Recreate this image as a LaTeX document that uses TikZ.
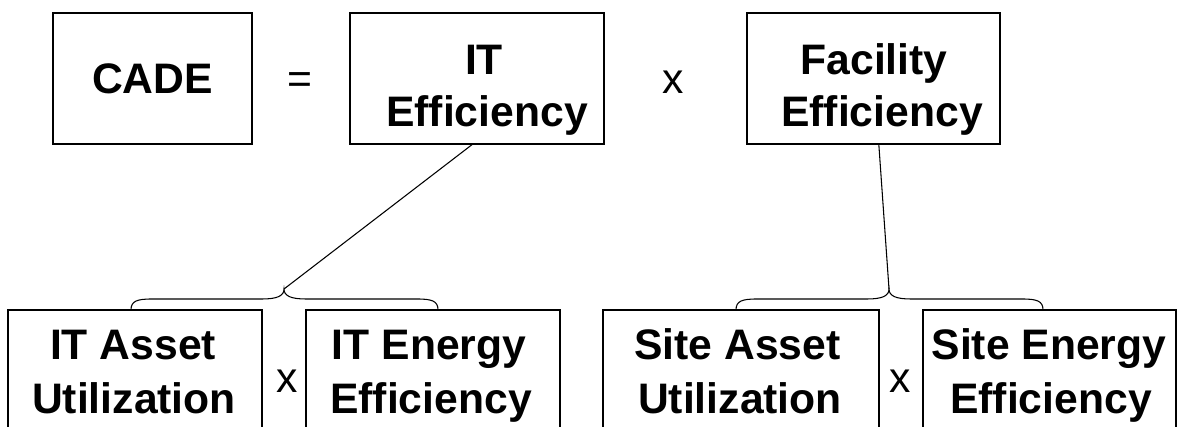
\documentclass[tikz,border=0pt]{standalone}
\usepackage{fontspec}
\setmainfont{Liberation Sans}
\usetikzlibrary{fit}
\begin{document}
\begin{tikzpicture}[x=0.75pt,y=-0.75pt]
\tikzset{
  box/.style={draw, line width=1pt, inner sep=0pt},
  lbl/.style={font=\bfseries\fontsize{32}{40}\selectfont, anchor=base, inner sep=0pt},
  op/.style={font=\fontsize{32}{40}\selectfont, anchor=base, inner sep=0pt},
  link/.style={line width=0.8pt},
}
\useasboundingbox (0,0) rectangle (1184,427);
\clip (0,0) rectangle (1184,427);
\fill[white] (0,0) rectangle (1184,427);
% top row
\node[box, fit={(53,13) (252,144)}] (cade) {};
\node[lbl] (cadet) at (152.5,94) {CADE};
\node[op] (eq) at (300,94) {=};
\node[box, fit={(350,13) (604,144)}] (itbox) {};
\node[lbl] (itt1) at (484,75) {IT};
\node[lbl] (itt2) at (487,127) {Efficiency};
\node[op] (x1) at (673,94) {x};
\node[box, fit={(747,13) (1000,144)}] (fac) {};
\node[lbl] (fact1) at (874,75) {Facility};
\node[lbl] (fact2) at (882,127) {Efficiency};
% bottom row
\node[box, fit={(8,310) (262,470)}] (ita) {};
\node[lbl] (itat1) at (133,359) {IT Asset};
\node[lbl] (itat2) at (134,413) {Utilization};
\node[op] (x2) at (287,392) {x};
\node[box, fit={(306,310) (560,470)}] (ite) {};
\node[lbl] (itet1) at (429,359) {IT Energy};
\node[lbl] (itet2) at (431,413) {Efficiency};
\node[box, fit={(603,310) (879,470)}] (sa) {};
\node[lbl] (sat1) at (737.5,359) {Site Asset};
\node[lbl] (sat2) at (740,413) {Utilization};
\node[op] (x3) at (900,392) {x};
\node[box, fit={(923,310) (1176,470)}] (se) {};
\node[lbl] (set1) at (1049,359) {Site Energy};
\node[lbl] (set2) at (1051,413) {Efficiency};
% braces
\coordinate (b1l) at (131,310);
\coordinate (b1t) at (284,289);
\coordinate (b1r) at (438,310);
\coordinate (b2l) at (736,310);
\coordinate (b2t) at (889,289);
\coordinate (b2r) at (1043,310);
\draw[link] (b1l) .. controls (131,301) and (137,299) .. (152,299) -- (262,299)
  .. controls (277,299) and (284,296) .. (b1t)
  .. controls (284,296) and (291,299) .. (306,299) -- (417,299)
  .. controls (432,299) and (438,301) .. (b1r);
\draw[link] (b2l) .. controls (736,301) and (742,299) .. (757,299) -- (867,299)
  .. controls (882,299) and (889,296) .. (b2t)
  .. controls (889,296) and (896,299) .. (911,299) -- (1022,299)
  .. controls (1037,299) and (1043,301) .. (b2r);
% links
\draw[link] ([xshift=-3.75pt]itbox.south) -- (b1t);
\draw[link] ([xshift=4pt]fac.south) -- (b2t);
\end{tikzpicture}
\end{document}
